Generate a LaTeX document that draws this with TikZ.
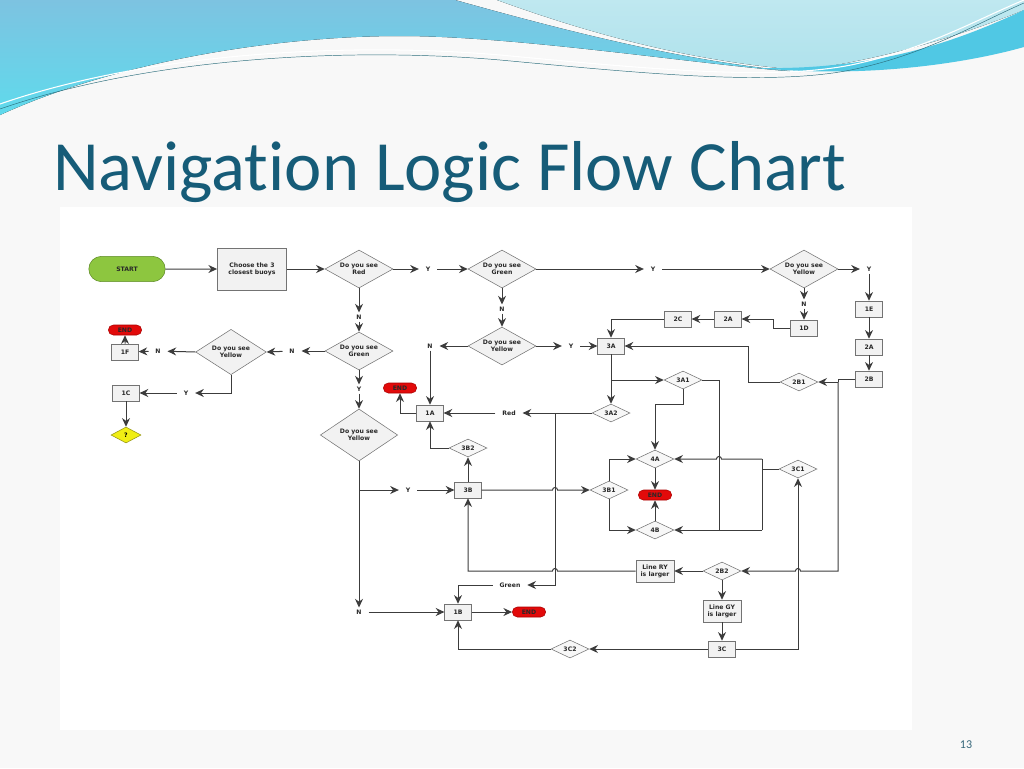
\documentclass[tikz,border=0pt]{standalone}
\usepackage{fontspec}
\usepackage{xcolor}
\usepackage{tikz}
\usetikzlibrary{arrows.meta,shapes.geometric,shapes.misc,calc,positioning}
\newfontfamily\chartfont{DejaVu Sans}
\newfontfamily\titlefont{Carlito}[Ligatures=NoCommon]
\newcommand{\chartsize}{\chartfont\bfseries\fontsize{4.6}{5.5}\selectfont}
\definecolor{linegray}{RGB}{60,60,60}
\definecolor{boxline}{RGB}{115,115,115}
\definecolor{boxfill}{RGB}{242,242,242}
\definecolor{minifill}{RGB}{247,247,247}
\definecolor{endfill}{RGB}{226,10,10}
\definecolor{endline}{RGB}{170,0,0}
\definecolor{startfill}{RGB}{141,198,63}
\definecolor{startline}{RGB}{95,140,40}
\definecolor{qfill}{RGB}{240,238,20}
\definecolor{qline}{RGB}{150,150,20}
\definecolor{chartText}{RGB}{40,40,40}
\definecolor{titleblue}{RGB}{22,92,120}
\definecolor{slidebg}{RGB}{248,248,248}
\definecolor{waveA}{RGB}{125,195,225}
\definecolor{waveB}{RGB}{95,218,236}
\definecolor{waveC}{RGB}{175,226,236}
\definecolor{waveD}{RGB}{80,200,228}
\tikzset{
	flow/.style = {draw=linegray, line width=0.75pt, -{Stealth[length=6.5pt,width=6pt]}},
	wire/.style = {draw=linegray, line width=0.75pt},
	box/.style = {
			rectangle, draw=boxline, fill=boxfill,
			minimum width=20pt, minimum height=12pt,
			inner sep=0.5pt, align=center, font=\chartsize, text=chartText,
		},
	bigbox/.style = {box, minimum width=52pt, minimum height=31.5pt},
	linebox/.style = {box, minimum width=28.5pt, minimum height=16.5pt},
	ques/.style = {
			diamond, aspect=1.8, draw=boxline, fill=boxfill,
			minimum width=51pt, minimum height=28.5pt,
			inner sep=0.5pt, align=center, font=\chartsize, text=chartText,
		},
	quesmid/.style = {ques, minimum width=53pt, minimum height=34pt},
	quesbig/.style = {ques, minimum width=58pt, minimum height=39pt},
	minidia/.style = {
			diamond, aspect=2, draw=boxline, fill=minifill,
			minimum width=28.5pt, minimum height=13.5pt,
			inner sep=0.5pt, font=\chartsize, text=chartText,
		},
	endpill/.style = {rounded rectangle, draw=endline, fill=endfill, minimum width=26pt, minimum height=7.5pt, inner sep=0.5pt, font=\chartsize, text=chartText},
	startpill/.style = {rounded rectangle, draw=startline, fill=startfill, minimum width=64pt, minimum height=19pt, font=\chartsize, text=chartText},
	qmark/.style = {diamond, aspect=1.9, draw=qline, fill=qfill, minimum width=22.5pt, minimum height=12pt, inner sep=0.5pt, font=\chartsize},
	answer/.style = {inner xsep=5pt, inner ysep=1.5pt, font=\chartsize, text=chartText},
}

\begin{document}
\begin{tikzpicture}[x=0.75pt, y=-0.75pt]
	% slide
	\useasboundingbox (0,0) rectangle (1024,768);
	\fill[slidebg] (0,0) rectangle (1024,768);

	% waves
	\fill[top color=waveA, bottom color=waveB] (0,0) -- (455,0) .. controls (580,35) and (690,62) .. (800,72) .. controls (700,65) and (520,36) .. (400,36) .. controls (280,36) and (120,60) .. (0,115) -- cycle;
	\fill[top color=waveC!80!white, bottom color=waveC] (497,0) -- (1024,0) -- (1024,10) .. controls (950,40) and (870,62) .. (800,70) .. controls (680,60) and (580,30) .. (497,0) -- cycle;
	\fill[waveD] (760,68) .. controls (880,70) and (960,40) .. (1024,10) -- (1024,47) .. controls (960,65) and (860,78) .. (760,68) -- cycle;
	\draw[white, line width=0.8pt] (0,104) .. controls (150,52) and (350,42) .. (500,55) .. controls (650,69) and (780,82) .. (860,63) .. controls (930,47) and (980,18) .. (1024,0);
	\draw[waveD!55!black, line width=0.35pt] (0,109) .. controls (150,57) and (350,47) .. (500,60) .. controls (650,74) and (780,87) .. (860,68) .. controls (930,52) and (980,22) .. (1024,3);

	\node[anchor=base west, inner sep=0pt, text=titleblue, font=\titlefont\fontsize{53}{60}\selectfont] (title) at (53,190) {Navigation Logic Flow Chart};
	\node[text=titleblue!70!gray, font=\titlefont\fontsize{9}{10}\selectfont] (pagenum) at (966,745) {13};

	% chart area
	\fill[white] (60,207) rectangle (912,730);

	% first row
	\node[startpill] (start) at (127,269) {START};
	\node[bigbox] (choose) at (252,269) {Choose the 3\\closest buoys};
	\node[ques] (qRed) at (359,269) {Do you see\\Red};
	\node[answer] (yRed) at (428,269) {Y};
	\node[ques] (qGreen) at (502,269) {Do you see\\Green};
	\node[answer] (yGreen) at (653,269) {Y};
	\node[ques] (qYel) at (804,269) {Do you see\\Yellow};
	\node[answer] (yYel) at (869,269) {Y};

	% right column
	\node[box] (b1E) at (869,309) {1E};
	\node[box] (b2Ar) at (869,347) {2A};
	\node[box] (b2B) at (869,379) {2B};
	\node[answer] (nYel) at (804,304) {N};
	\node[box] (b1D) at (804,328) {1D};
	\node[box] (b2A) at (728,319) {2A};
	\node[box] (b2C) at (678,319) {2C};
	\node[minidia] (d2B1) at (799,382) {2B1};

	% under green
	\node[answer] (nGreen) at (502,309) {N};
	\node[ques] (qYel3) at (502,346) {Do you see\\Yellow};
	\node[answer] (nYel3) at (430,346) {N};
	\node[answer] (yYel3) at (571,346) {Y};
	\node[box] (b3A) at (611,346) {3A};

	% under red
	\node[answer] (nRed) at (359,317) {N};
	\node[ques] (qGreen2) at (359,351) {Do you see\\Green};
	\node[answer] (nGreen2) at (292,351) {N};
	\node[quesmid] (qYel2) at (231,352) {Do you see\\Yellow};
	\node[answer] (nYelL) at (158,351) {N};
	\node[box] (b1F) at (125,352) {1F};
	\node[endpill] (endF) at (125,330) {END};
	\node[answer] (yYelL) at (186,393) {Y};
	\node[box] (b1C) at (126,393) {1C};
	\node[qmark] (qMark) at (126,435) {?};
	\node[answer] (yGreen2) at (359,389) {Y};
	\node[quesbig] (qYelB) at (359,435) {Do you see\\Yellow};
	\node[answer] (yYelB) at (408,490) {Y};
	\node[answer] (nYelB) at (359,612) {N};

	% middle
	\node[box] (b1A) at (430,413) {1A};
	\node[endpill] (end1A) at (400,388) {END};
	\node[minidia] (d3A2) at (611,413) {3A2};
	\node[answer] (lRed) at (509,413) {Red};
	\node[minidia] (d3A1) at (683,380) {3A1};
	\node[minidia] (d4A) at (655,459) {4A};
	\node[endpill] (endM) at (655,495) {END};
	\node[minidia] (d4B) at (655,530) {4B};
	\node[minidia] (d3B1) at (609,490) {3B1};
	\node[box] (b3B) at (468,490) {3B};
	\node[minidia] (d3B2) at (468,448) {3B2};
	\node[minidia] (d3C1) at (798,469) {3C1};

	% bottom
	\node[linebox] (lineRY) at (655,571) {Line RY\\is larger};
	\node[minidia] (d2B2) at (722,571) {2B2};
	\node[linebox] (lineGY) at (722,611) {Line GY\\is larger};
	\node[box] (b3C) at (722,649) {3C};
	\node[minidia] (d3C2) at (570,649) {3C2};
	\node[answer] (lGreen) at (510,585) {Green};
	\node[box] (b1B) at (458,612) {1B};
	\node[endpill] (endB) at (529,612) {END};

	% junctions
	\coordinate (jR) at (838,379);
	\coordinate (jG) at (555,413);
	\coordinate (jA) at (719,530);
	\coordinate (jC) at (762,469);

	% first row links
	\draw[flow] (start) -- (choose);
	\draw[flow] (choose) -- (qRed.west);
	\draw[flow] (qRed.east) -- (yRed);
	\draw[flow] (yRed) -- (qGreen.west);
	\draw[flow] (qGreen.east) -- (yGreen);
	\draw[flow] (yGreen) -- (qYel.west);
	\draw[flow] (qYel.east) -- (yYel);
	\draw[flow] (yYel) -- (b1E);

	% right column links
	\draw[flow] (b1E) -- (b2Ar);
	\draw[flow] (b2Ar) -- (b2B);
	\draw[wire] (b2B.west) -- (jR) -- (jR |- d2B1);
	\draw[flow] (jR |- d2B1) -- (d2B1.east);
	\draw[flow] (jR |- d2B1) -- (jR |- d2B2) -- ($(d3C1 |- d2B2)+(2.5,0)$) arc[start angle=0, end angle=180, radius=1.9pt] -- (d2B2.east);
	\draw[flow] (d2B1.west) -- ++(-31,0) |- (b3A.east);
	\draw[flow] (qYel.south) -- (nYel);
	\draw[flow] (nYel) -- (b1D);
	\draw[flow] (b1D.west) -- ++(-17,0) |- (b2A.east);
	\draw[flow] (b2A) -- (b2C);
	\draw[flow] (b2C.west) -| (b3A.north);

	% green branch
	\draw[flow] (qGreen.south) -- (nGreen);
	\draw[flow] (nGreen) -- (qYel3.north);
	\draw[flow] (qYel3.west) -- (nYel3);
	\draw[flow] (nYel3) -- (b1A);
	\draw[flow] (qYel3.east) -- (yYel3);
	\draw[flow] (yYel3) -- (b3A);

	% red branch
	\draw[flow] (qRed.south) -- (nRed);
	\draw[flow] (nRed) -- (qGreen2.north);
	\draw[flow] (qGreen2.west) -- (nGreen2);
	\draw[flow] (nGreen2) -- (qYel2.east);
	\draw[flow] (qYel2.west) -- (nYelL);
	\draw[flow] (nYelL) -- (b1F);
	\draw[flow] (b1F) -- (endF);
	\draw[flow] (qYel2.south) |- (yYelL);
	\draw[flow] (yYelL) -- (b1C);
	\draw[flow] (b1C) -- (qMark.north);
	\draw[flow] (qGreen2.south) -- (yGreen2);
	\draw[flow] (yGreen2) -- (qYelB.north);
	\draw[flow] (qYelB.south) -- (nYelB);
	\draw[flow] (qYelB.south |- yYelB) -- (yYelB);
	\draw[flow] (yYelB) -- (b3B);
	\draw[flow] (nYelB) -- (b1B);

	% middle links
	\draw[flow] (b1A.west) -| (end1A.south);
	\draw[flow] (b3A) -- (d3A2.north);
	\draw[flow] (b3A.south |- d3A1) -- (d3A1.west);
	\draw[flow] (d3A2.west) -- (lRed);
	\draw[flow] (lRed) -- (b1A);
	\draw[flow] (jG) |- (lGreen);
	\draw[flow] (lGreen.west) -| (b1B.north);
	\draw[flow] (d3A1.south) -- ++(0,15) -| (d4A.north);
	\draw[wire] (d3A1.east) -| (jA);
	\draw[wire] (d3C1.west) -- (jC);
	\draw[wire] (jC |- d4A) -- (jC |- d4B);
	\draw[flow] (jC |- d4A) -- ($(jA |- d4A)+(2.5,0)$) arc[start angle=0, end angle=180, radius=1.9pt] -- (d4A.east);
	\draw[flow] (jC |- d4B) -- (d4B.east);
	\draw[flow] (d4A.south) -- (endM.north);
	\draw[flow] (d4B.north) -- (endM.south);
	\draw[flow] (d3B1.north) |- (d4A.west);
	\draw[flow] (d3B1.south) |- (d4B.west);
	\draw[flow] (b3B.east) -- ($(jG |- b3B)+(-2.5,0)$) arc[start angle=180, end angle=0, radius=1.9pt] -- (d3B1.west);
	\draw[flow] (b3B) -- (d3B2.south);
	\draw[flow] (d3B2.west) -| (b1A.south);

	% bottom links
	\draw[flow] (lineRY.west) -- ($(jG |- lineRY)+(2.5,0)$) arc[start angle=0, end angle=180, radius=1.9pt] -| (b3B.south);
	\draw[flow] (d2B2.west) -- (lineRY.east);
	\draw[flow] (d2B2.south) -- (lineGY.north);
	\draw[flow] (lineGY) -- (b3C);
	\draw[flow] (b3C.west) -- (d3C2.east);
	\draw[flow] (d3C2.west) -| (b1B.south);
	\draw[flow] (b3C.east) -| (d3C1.south);
	\draw[flow] (b1B) -- (endB);
\end{tikzpicture}
\end{document}
